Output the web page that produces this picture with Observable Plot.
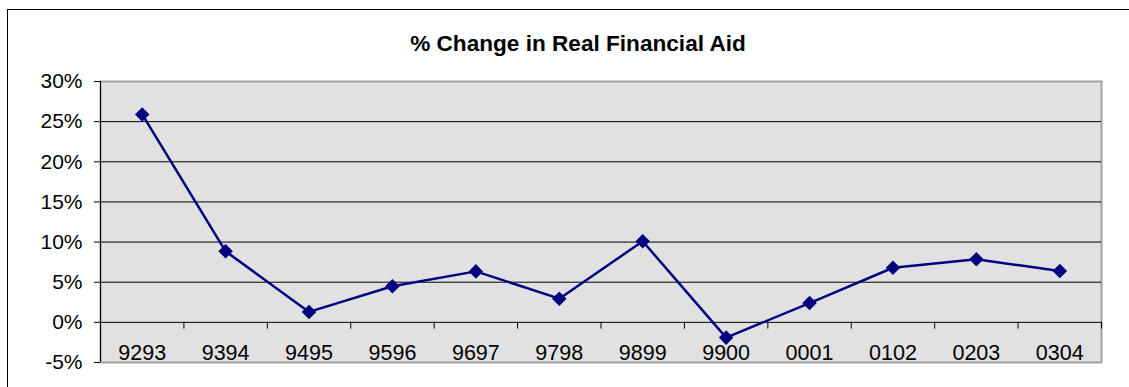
<!DOCTYPE html>
<html>
<head>
<meta charset="utf-8">
<script src="https://cdn.jsdelivr.net/npm/d3@7"></script>
<script src="https://cdn.jsdelivr.net/npm/@observablehq/plot@0.6"></script>
<style>
  html, body { margin: 0; padding: 0; background: #fff; }
  #wrap { position: relative; width: 1129px; height: 387px; overflow: hidden; font-family: "Liberation Sans", Arial, sans-serif; }
  #outer { position: absolute; left: 7px; top: 9px; width: 1200px; height: 500px; border-left: 1px solid #000; border-top: 1px solid #000; box-sizing: border-box; pointer-events: none; }
  #title { position: absolute; left: 0; top: 33px; width: 1156px; text-align: center; font-weight: bold; font-size: 22.6px; line-height: 22px; color: #000; }
  svg { display: block; }
</style>
</head>
<body>
<div id="wrap">
  <div id="chart"></div>
  <div id="outer"></div>
  <div id="title">% Change in Real Financial Aid</div>
</div>
<script>
const titleText = "% Change in Real Financial Aid";
const categories = ["9293","9394","9495","9596","9697","9798","9899","9900","0001","0102","0203","0304"];
const values = [25.9, 8.85, 1.3, 4.5, 6.35, 2.95, 10.1, -1.9, 2.4, 6.8, 7.85, 6.4];
const yTicks = [-5, 0, 5, 10, 15, 20, 25, 30];

document.getElementById("title").textContent = titleText;

const data = categories.map((c, i) => ({i, c, v: values[i]}));
const yMin = d3.min(yTicks), yMax = d3.max(yTicks);
const gridVals = yTicks.filter(t => t > yMin && t < yMax && t !== 0);
const boundaries = categories.map((_, i) => i + 0.5);

const diamond = {
  draw(ctx, size) {
    const r = Math.sqrt(size / 2);
    ctx.moveTo(0, -r); ctx.lineTo(r, 0); ctx.lineTo(0, r); ctx.lineTo(-r, 0); ctx.closePath();
  }
};

const chart = Plot.plot({
  width: 1129,
  height: 387,
  marginLeft: 100,
  marginRight: 28,
  marginTop: 81,
  marginBottom: 25,
  style: {fontFamily: '"Liberation Sans", Arial, sans-serif', background: "transparent", color: "#000", overflow: "visible"},
  x: {type: "linear", domain: [-0.5, categories.length - 0.5], axis: null, label: null},
  y: {domain: [yMin, yMax], axis: null, label: null},
  marks: [
    Plot.frame({fill: "#e1e1e1", stroke: "#a0a0a0", strokeWidth: 2}),
    Plot.ruleY(gridVals, {stroke: "#000", strokeWidth: 1}),
    Plot.ruleY([0], {stroke: "#000", strokeWidth: 1}),
    Plot.ruleX(boundaries, {x: d => d, y1: 0, y2: -0.85, stroke: "#000", strokeWidth: 1}),
    Plot.ruleX([-0.5], {stroke: "#000", strokeWidth: 1}),
    Plot.axisY({ticks: yTicks, tickFormat: d => d + "%", tickSize: 6, tickPadding: 12, fontSize: 21, stroke: "#000", label: null}),
    Plot.text(data, {x: "i", y: yMin, text: "c", lineAnchor: "middle", dy: -9, fontSize: 21.5, fill: "#000"}),
    Plot.line(data, {x: "i", y: "v", stroke: "#000080", strokeWidth: 2.5}),
    Plot.dot(data, {x: "i", y: "v", symbol: diamond, r: 5.8, fill: "#000080", stroke: "none"})
  ]
});
document.getElementById("chart").appendChild(chart);
</script>
</body>
</html>
